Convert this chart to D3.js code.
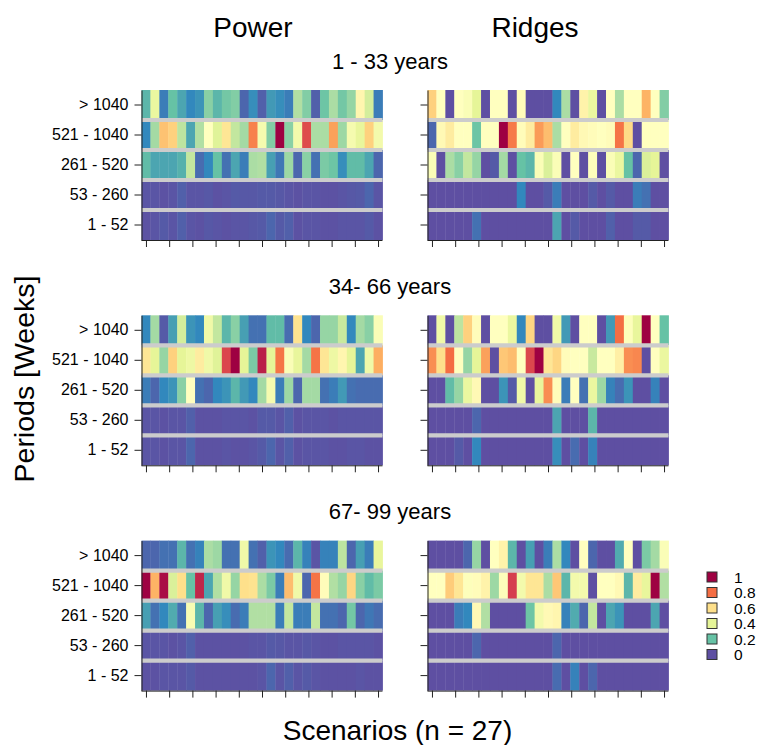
<!DOCTYPE html>
<html><head><meta charset="utf-8">
<script src="https://cdn.jsdelivr.net/npm/d3@7"></script>
<style>
body{margin:0;background:#fff}
svg{display:block}
text{font-family:"Liberation Sans",Arial,Helvetica,sans-serif;fill:#000}
</style>
</head><body>
<svg id="chart" width="762" height="745"></svg>
<script>
// ---------- data ----------
const methods = ["Power", "Ridges"];
const ageGroups = ["1 - 33 years", "34- 66 years", "67- 99 years"];
const periods = ["> 1040", "521 - 1040", "261 - 520", "53 - 260", "1 - 52"];
const scenarios = d3.range(1, 28);
const xTickValues = [0, 0.1, 0.2, 0.3, 0.4, 0.5, 0.6, 0.7, 0.8, 0.9, 1];
const legendValues = [1, 0.8, 0.6, 0.4, 0.2, 0];
const legendLabels = ["1", "0.8", "0.6", "0.4", "0.2", "0"];

// rows top-to-bottom: > 1040, 521-1040, 261-520, 53-260, 1-52 ; 27 scenarios each
const power_1_33 = [
  [0.18,0.42,0.08,0.2,0.15,0.1,0.12,0.25,0.18,0.22,0.24,0.04,0.11,0.03,0.13,0.11,0.08,0.31,0.24,0.03,0.21,0.3,0.22,0.27,0.53,0.37,0.08],
  [0.1,0.29,0.66,0.63,0.33,0.15,0.31,0.5,0.39,0.58,0.34,0.29,0.77,0.46,0.24,1.0,0.25,0.45,0.87,0.3,0.3,0.72,0.28,0.46,0.41,0.63,0.45],
  [0.19,0.15,0.15,0.15,0.17,0.34,0.05,0.1,0.2,0.06,0.15,0.08,0.3,0.31,0.14,0.07,0.28,0.04,0.25,0.06,0.23,0.21,0.11,0.19,0.19,0.15,0.04],
  [0.01,0.01,0.005,0.01,0.03,0.01,0.01,0.015,0.005,0.01,0.02,0.015,0.015,0.02,0.02,0.015,0.01,0.005,0.01,0.01,0.005,0.005,0.01,0.015,0.02,0.04,0.01],
  [0.005,0.01,0.02,0.01,0.03,0.01,0.005,0.015,0.01,0.005,0.01,0.01,0.015,0.02,0.04,0.02,0.03,0.005,0.01,0.01,0.005,0.005,0.01,0.01,0.01,0.02,0.005]
];
const ridges_1_33 = [
  [0.63,0.5,0,0.5,0.48,0.4,0,0.5,0.5,0,0.51,0,0,0,0.1,0.3,0,0.54,0.42,0,0.5,0.3,0.5,0.5,0.69,0.5,0.24],
  [0.04,0.52,0.56,0.5,0.5,0.21,0.5,0.5,1.0,0.78,0.51,0.56,0.73,0.67,0.3,0.5,0.56,0.52,0.51,0.5,0.51,0.79,0.61,0,0.5,0.5,0.5],
  [0.48,0,0.3,0.25,0.34,0.27,0,0.02,0.29,0,0.2,0.18,0.48,0.38,0.48,0,0.5,0,0.49,0,0.48,0.42,0.2,0.04,0.38,0.4,0],
  [0,0,0,0,0,0,0,0,0,0,0.1,0,0,0.02,0.08,0,0,0,0.02,0,0.02,0,0,0.08,0.06,0,0],
  [0,0,0,0,0,0.06,0,0,0,0,0,0,0,0,0.15,0,0.02,0,0,0,0.03,0,0,0.02,0.02,0,0]
];
const power_34_66 = [
  [0.1,0.29,0.02,0.14,0.37,0.12,0.1,0.44,0.34,0.18,0.25,0.14,0.06,0.06,0.19,0.19,0.05,0.59,0.1,0.04,0.27,0.27,0.35,0.1,0.29,0.25,0.48],
  [0.58,0.4,0.27,0.63,0.4,0.43,0.56,0.44,0.39,0.88,1.0,0.4,0.23,0.95,0.4,0.79,0.48,0.41,0.29,0.79,0.58,0.43,0.53,0.4,0.15,0.44,0.7],
  [0.08,0.04,0.1,0.12,0.25,0.5,0.06,0.04,0.1,0.12,0.18,0.13,0.1,0.29,0.46,0.08,0.28,0.04,0.29,0.29,0.06,0.08,0.13,0.06,0.05,0.05,0.05],
  [0.01,0.01,0.005,0.01,0.01,0.03,0.005,0.005,0.005,0.01,0.01,0.01,0.005,0.02,0.02,0.01,0.03,0.005,0.01,0.01,0.01,0.005,0.01,0.01,0.01,0.01,0.01],
  [0.01,0.01,0.005,0.01,0.01,0.04,0.005,0.005,0.005,0.01,0.005,0.005,0.01,0.02,0.04,0.01,0.03,0.005,0.01,0.01,0.01,0.005,0.005,0.01,0.01,0.005,0.005]
];
const ridges_34_66 = [
  [0,0.44,0,0.33,0.63,0.51,0,0.5,0.5,0.42,0.1,0.62,0,0,0.44,0.13,0,0.5,0.5,0,0.13,0.8,0.49,0.41,1.0,0.5,0.2],
  [0.75,0.6,0.8,0.5,0.27,0.4,0.72,0,0.65,0.67,0.5,0.88,1.0,0.58,0.62,0.51,0.5,0.5,0.35,0.5,0.5,0.55,0.75,0.76,0,0.5,0.42],
  [0,0,0.19,0.27,0.42,0.52,0,0,0.12,0.02,0.44,0,0.41,0.75,0.51,0.08,0.5,0.06,0.42,0.28,0.09,0.05,0.12,0,0,0.09,0],
  [0,0,0,0,0,0.04,0,0,0,0,0,0,0,0,0.15,0,0,0,0.18,0,0,0,0,0,0,0,0],
  [0,0,0,0.02,0,0.1,0,0,0,0,0,0,0,0,0.11,0,0.05,0,0.09,0,0,0,0,0,0,0,0]
];
const power_67_99 = [
  [0.04,0.04,0.06,0.06,0.18,0.06,0.09,0.3,0.28,0.06,0.06,0.44,0.06,0.03,0.12,0.1,0.05,0.18,0.09,0.01,0.09,0.09,0.33,0.04,0.14,0.08,0.41],
  [1.0,0.69,0.98,0.38,0.6,0.2,0.94,0.15,0.31,0.44,0.27,0.6,0.59,0.3,0.23,0.08,0.67,0.44,0.04,0.79,0.51,0.31,0.27,0.62,0.25,0.19,0.23],
  [0.14,0.06,0.1,0.16,0.06,0.47,0.18,0.04,0.14,0.11,0.05,0.08,0.31,0.31,0.31,0.08,0.34,0.08,0.08,0.34,0.06,0.06,0.04,0.22,0.04,0.07,0.05],
  [0.01,0.01,0.01,0.005,0.01,0.03,0.005,0.005,0.005,0.005,0.005,0.005,0.01,0.01,0.02,0.015,0.01,0.01,0.015,0.01,0.005,0.005,0.01,0.01,0.01,0.01,0.005],
  [0.005,0.005,0.01,0.01,0.01,0.02,0.005,0.005,0.005,0.005,0.005,0.005,0.005,0.01,0.04,0.01,0.03,0.01,0.02,0.01,0.005,0.005,0.005,0.005,0.01,0.005,0.005]
];
const ridges_67_99 = [
  [0,0,0,0,0.04,0.27,0,0.5,0.54,0.18,0,0.14,0,0.08,0.3,0.1,0,0.5,0.04,0,0,0.16,0.5,0,0.23,0.29,0.48],
  [0.5,0.5,0.64,0.58,0.49,0.51,0.54,0.28,0.49,0.9,0.45,0.58,0.58,0.3,0.65,0.18,0.45,0.45,0,0.5,0.5,0.52,0.18,0.56,0.41,1.0,0.31],
  [0,0,0,0.08,0.1,0.52,0.31,0,0,0,0,0.21,0.45,0.52,0.53,0.09,0.16,0.04,0.34,0,0.15,0.12,0,0,0,0.15,0],
  [0,0,0,0,0,0.04,0,0,0,0,0,0,0,0,0.04,0,0,0,0,0,0,0,0,0,0,0,0],
  [0,0,0,0,0,0,0,0,0,0,0,0,0,0,0.05,0,0.09,0,0.04,0,0,0,0,0,0,0,0]
];
const panelData = [
  [power_1_33, ridges_1_33],
  [power_34_66, ridges_34_66],
  [power_67_99, ridges_67_99]
];

// ---------- layout ----------
const svg = d3.select("#chart");
const PW = 241, PH = 150;
const panelX = [141.5, 427.5];
const panelY = [90, 315.3, 540.6];

const x = d3.scaleBand().domain(scenarios).range([0, PW]);
const y = d3.scaleBand().domain(periods).range([0, PH]);
const xt = d3.scaleLinear().domain([0, 1]).range([x.bandwidth() / 2, PW - x.bandwidth() / 2]);
const color = d3.scaleLinear()
  .domain(d3.range(11).map(i => i / 10))
  .range(d3.schemeSpectral[11].slice().reverse())
  .clamp(true);

ageGroups.forEach((ag, g) => {
  methods.forEach((m, c) => {
    const data = panelData[g][c];
    const gp = svg.append("g").attr("transform", `translate(${panelX[c]},${panelY[g]})`);
    const cells = [];
    data.forEach((row, i) => row.forEach((v, j) => cells.push({p: periods[i], s: scenarios[j], v})));
    gp.selectAll("rect.cell").data(cells).join("rect")
      .attr("class", "cell")
      .attr("x", d => x(d.s))
      .attr("y", d => y(d.p))
      .attr("width", x.bandwidth() + 0.4)
      .attr("height", y.bandwidth())
      .attr("fill", d => color(d.v));
    // separator lines
    gp.selectAll("line.sep").data(periods.slice(1)).join("line")
      .attr("class", "sep")
      .attr("x1", 0).attr("x2", PW)
      .attr("y1", d => y(d)).attr("y2", d => y(d))
      .attr("stroke", "#cccccc").attr("stroke-width", 4.2);
    // axes
    const ya = d3.axisLeft(y).tickSize(7).tickSizeOuter(0).tickPadding(6)
      .tickFormat(c === 0 ? (d => d) : (() => ""));
    const yg = gp.append("g").call(ya);
    yg.attr("font-size", null).attr("font-family", null);
    yg.selectAll("text").style("font-size", "16px");
    yg.selectAll("line,path").attr("stroke", "#222");
    const xa = d3.axisBottom(xt).tickValues(xTickValues).tickSize(7).tickFormat(() => "");
    const xg = gp.append("g").attr("transform", `translate(0,${PH})`).call(xa);
    xg.select("path.domain").remove();
    xg.selectAll("line").attr("stroke", "#222");
    gp.append("line").attr("x1", 0).attr("x2", PW).attr("y1", PH + 0.5).attr("y2", PH + 0.5)
      .attr("stroke", "#222").attr("stroke-width", 1);
  });
  svg.append("text").attr("x", 390).attr("y", panelY[g] - 21.5)
    .attr("text-anchor", "middle").style("font-size", "22px").text(ag);
});

// column titles
const titleX = [253, 535];
methods.forEach((m, c) => {
  svg.append("text").attr("x", titleX[c]).attr("y", 36.5)
    .attr("text-anchor", "middle").style("font-size", "28px").text(m);
});

// axis titles
svg.append("text").attr("transform", "translate(34,379) rotate(-90)")
  .attr("text-anchor", "middle").style("font-size", "28.5px").text("Periods [Weeks]");
svg.append("text").attr("x", 397.5).attr("y", 740)
  .attr("text-anchor", "middle").style("font-size", "28px").text("Scenarios (n = 27)");

// legend
const lg = svg.append("g").attr("transform", "translate(707,572)");
const ly = d3.scaleBand().domain(legendLabels).range([0, 93]);
lg.selectAll("rect").data(legendValues).join("rect")
  .attr("x", 0).attr("y", (d, i) => ly(legendLabels[i]))
  .attr("width", 10).attr("height", 10)
  .attr("fill", d => color(d)).attr("stroke", "#333").attr("stroke-width", 1);
lg.selectAll("text").data(legendLabels).join("text")
  .attr("x", 27).attr("y", d => ly(d) + 5)
  .attr("dy", "0.36em").style("font-size", "15.5px").text(d => d);
</script>
</body></html>
